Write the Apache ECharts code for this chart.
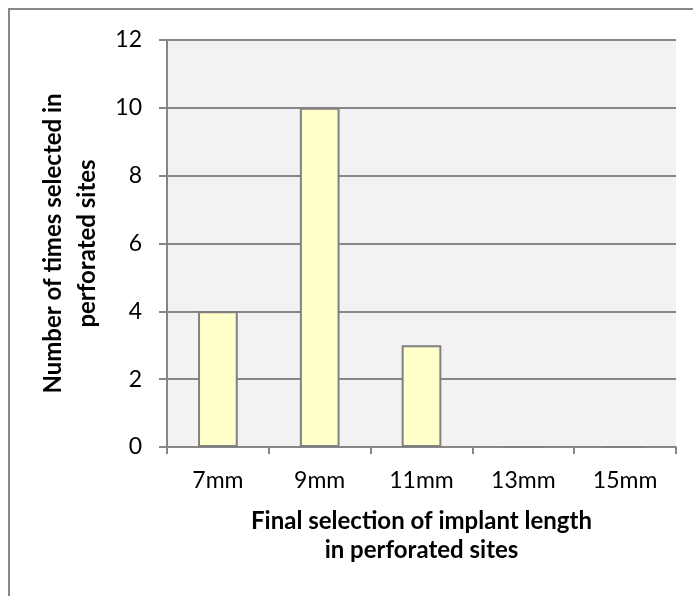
<!DOCTYPE html>
<html><head><meta charset="utf-8">
<script src="https://cdn.jsdelivr.net/npm/echarts@6/dist/echarts.min.js"></script>
<style>html,body{margin:0;padding:0;background:#fff}#c{width:693px;height:596px}</style>
</head><body><div id="c"></div>
<script>
const categories = ['7mm', '9mm', '11mm', '13mm', '15mm'];
const values = [4, 10, 3, 0, 0];
const yTicks = [0, 2, 4, 6, 8, 10, 12];
const xTitle = 'Final selection of implant length\nin perforated sites';
const yTitle = 'Number of times selected in\nperforated sites';

const FONT = 'Lato';
const chart = echarts.init(document.getElementById('c'), null, {renderer: 'canvas'});
chart.setOption({
  animation: false,
  backgroundColor: '#fff',
  graphic: [{
    type: 'rect', z: 100, silent: true,
    shape: {x: 9, y: 9, width: 720, height: 620},
    style: {fill: 'none', stroke: '#888888', lineWidth: 2}
  }],
  grid: {left: 167, top: 40, width: 509, height: 407, show: true, backgroundColor: '#f2f2f2', borderWidth: 0},
  xAxis: {
    type: 'category', data: categories,
    axisLine: {show: true, lineStyle: {color: '#868686', width: 2}},
    axisTick: {show: true, length: 7, lineStyle: {color: '#868686', width: 2}},
    axisLabel: {color: '#000', fontFamily: FONT, fontSize: 23, margin: 22},
    name: xTitle, nameLocation: 'middle', nameGap: 60,
    nameTextStyle: {color: '#000', fontFamily: FONT, fontSize: 24, fontWeight: 'bold', lineHeight: 29}
  },
  yAxis: {
    type: 'value', min: yTicks[0], max: yTicks[yTicks.length - 1], interval: 2,
    axisLine: {show: true, lineStyle: {color: '#868686', width: 2}},
    axisTick: {show: true, length: 8, lineStyle: {color: '#868686', width: 2}},
    splitLine: {show: true, lineStyle: {color: '#868686', width: 2}},
    axisLabel: {color: '#000', fontFamily: FONT, fontSize: 23, margin: 25},
    name: yTitle, nameLocation: 'middle', nameGap: 62,
    nameTextStyle: {color: '#000', fontFamily: FONT, fontSize: 24, fontWeight: 'bold', lineHeight: 34}
  },
  series: [{
    type: 'bar', data: values, barWidth: '39%',
    itemStyle: {color: '#ffffcc', borderColor: '#808080', borderWidth: 2}
  }]
});
</script></body></html>
